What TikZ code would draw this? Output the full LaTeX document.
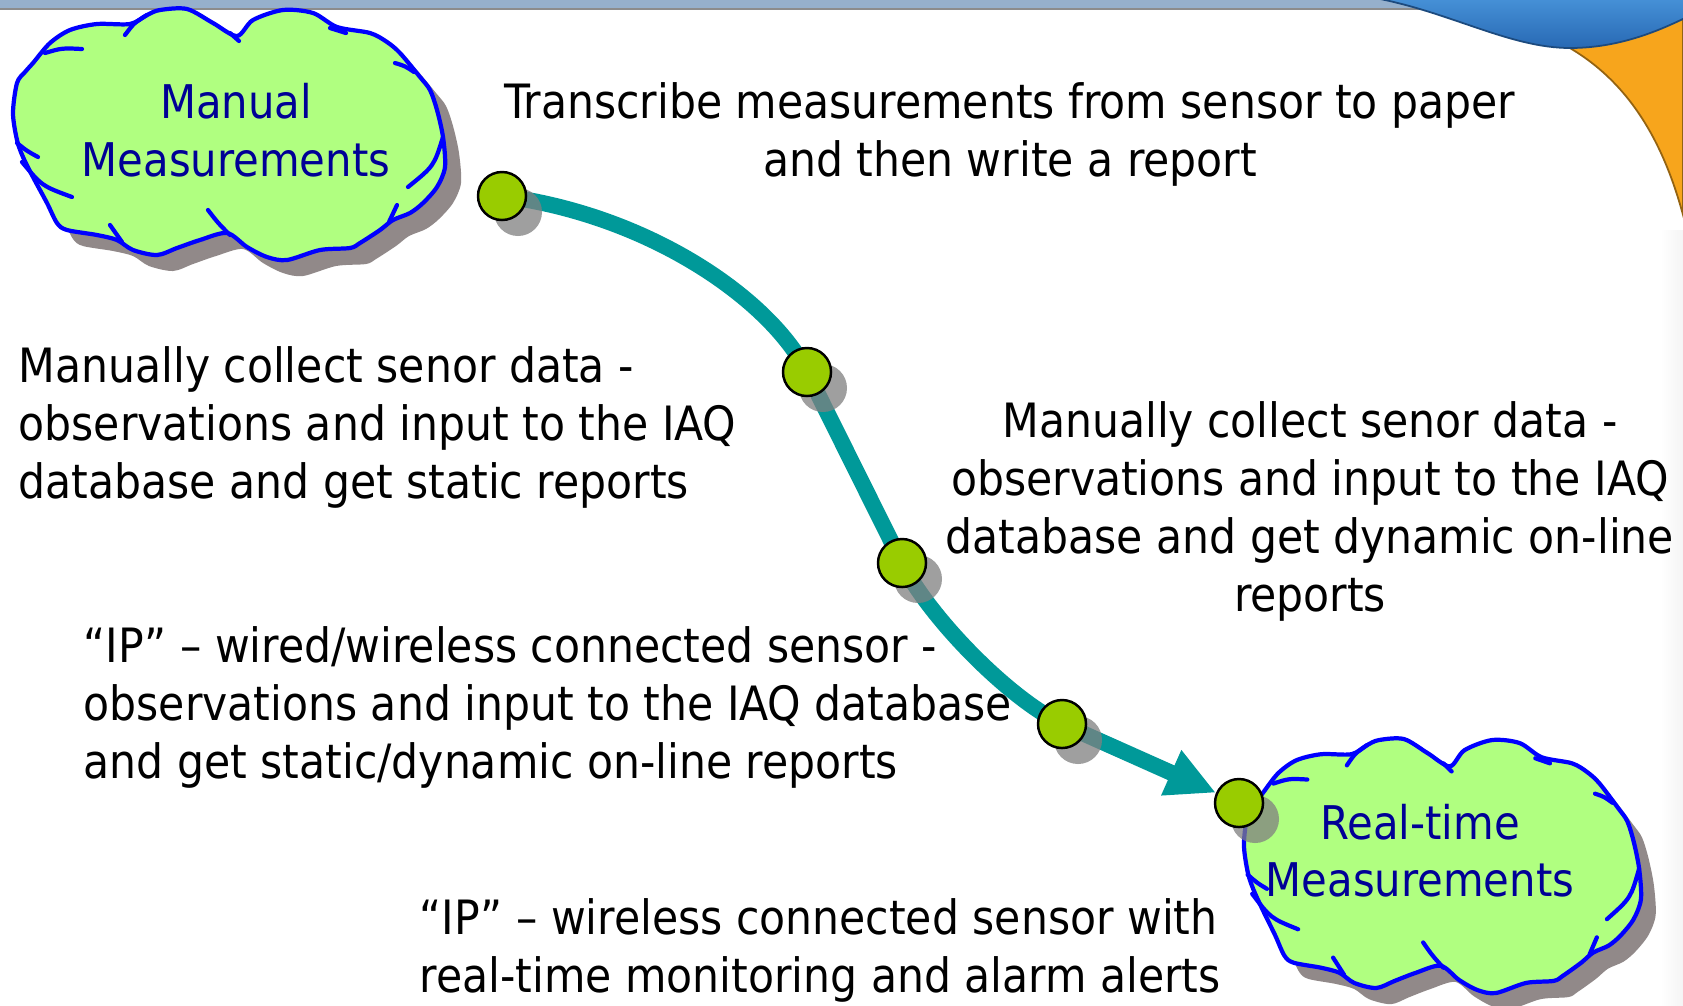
\documentclass[tikz,border=0pt]{standalone}
\usepackage{fontspec}
\setmainfont{DejaVu Sans Condensed}
\usepackage{tikz}
\usetikzlibrary{arrows.meta,backgrounds}

\definecolor{cloudfill}{RGB}{176,255,128}
\definecolor{cloudline}{RGB}{0,0,255}
\definecolor{cloudshade}{RGB}{145,137,137}
\definecolor{cloudtext}{RGB}{0,0,150}
\definecolor{flowteal}{RGB}{0,153,153}
\definecolor{dotgreen}{RGB}{153,204,0}
\definecolor{barblue}{RGB}{150,176,204}
\definecolor{captop}{RGB}{70,145,215}
\definecolor{capbottom}{RGB}{40,105,180}
\definecolor{caporange}{RGB}{247,165,28}

\newcommand\cloudrim{plot[smooth cycle,tension=0.5] coordinates {
  (1,105) (5,75) (13,64) (21,55) (38,35) (58,22) (85,16) (118,16) (135,7)
  (148,2) (175,1) (201,15) (225,28) (241,12) (271,2) (301,5) (325,19)
  (358,25) (375,34) (388,45) (408,69) (418,82) (425,102) (431,129)
  (433,159) (425,179) (411,195) (398,205) (381,212) (368,222) (348,235)
  (338,240) (308,242) (275,252) (255,249) (235,239) (215,225) (188,232)
  (165,240) (145,247) (121,242) (105,232) (85,227) (55,222) (45,215)
  (35,195) (21,169) (11,149) (5,132)}}
\newcommand\cloudstrokes{
  (33,45) .. controls (50,40) .. (70,41)
  (135,7) .. controls (122,15) .. (113,27)
  (218,25) -- (227,33)
  (318,20) -- (334,25)
  (383,55) .. controls (393,58) .. (402,64)
  (431,129) .. controls (422,158) .. (396,179)
  (377,214) -- (385,197)
  (196,202) .. controls (206,215) .. (218,227)
  (98,217) .. controls (104,226) .. (110,234)
  (10,154) .. controls (30,178) .. (60,189)
  (5,135) .. controls (15,143) .. (26,149)}

\begin{document}
\begin{tikzpicture}[x=0.01cm,y=-0.01cm,
    txt/.style={inner sep=0pt,font=\fontsize{13.45pt}{16.5pt}\selectfont},
    cloudlabel/.style={txt,text=cloudtext,align=center,anchor=north,
      font=\fontsize{13.2pt}{16.3pt}\selectfont},
    dot/.style={circle,draw=black,line width=0.7pt,fill=dotgreen,
      minimum size=0.48cm,inner sep=0pt},
    dotshade/.style={fill=black!50,opacity=0.75},
    flow/.style={draw=flowteal,line width=0.16cm,
      -{Triangle[length=0.49cm,width=0.46cm]}},
    pics/cloud/.style={code={
      \fill[cloudshade,shift={(16,16)}] \cloudrim;
      \filldraw[fill=cloudfill,draw=cloudline,line width=1.2pt] \cloudrim;
      \draw[cloudline,line width=1.2pt,line cap=round] \cloudstrokes;
    }}]
    \useasboundingbox (0,0) rectangle (1683,1005);

    \pic at (12,8) {cloud};
    \pic[xscale=0.919,yscale=1.012] at (1243,738) {cloud};
    \node[cloudlabel] (manual) at (236,83) {Manual\\Measurements};
    \node[cloudlabel] (realtime) at (1420,803) {Real-time\\Measurements};

    \node[txt,align=center,anchor=north] (transcribe) at (1010,82)
        {Transcribe measurements from sensor to paper\\and then write a report};
    \node[txt,align=left,anchor=north west] (staticdb) at (18,346)
        {Manually collect senor data -\\observations and input to the IAQ\\database and get static reports};
    \node[txt,align=center,anchor=north] (dynamicdb) at (1310,401)
        {Manually collect senor data -\\observations and input to the IAQ\\database and get dynamic on-line\\reports};
    \node[txt,align=left,anchor=north west] (ipwired) at (83,626)
        {“IP” – wired/wireless connected sensor -\\observations and input to the IAQ database\\and get static/dynamic on-line reports};
    \node[txt,align=left,anchor=north west] (ipalarm) at (419,898)
        {“IP” – wireless connected sensor with\\real-time monitoring and alarm alerts};

    \foreach \n/\px/\py in {
        d1/502/196,
        d2/807/372,
        d3/902/563,
        d4/1062/724,
        d5/1239/803
        }
        {
            \fill[dotshade] (\px+16,\py+16) circle[radius=24];
            \node[dot] (\n) at (\px,\py) {};
        }

    \begin{scope}[on background layer]
        \fill[white] (0,0) rectangle (1683,1005);
        \fill[barblue] (0,0) rectangle (1683,9);
        \draw[black!45,line width=0.6pt] (0,9) -- (1683,9);
        \shade[left color=white,right color=black!4] (1660,230) rectangle (1683,1005);
        \filldraw[fill=caporange,draw=caporange!60!black,line width=0.5pt]
            (1555,40) -- (1683,0) -- (1683,215)
            .. controls (1660,130) and (1620,72) .. (1555,40) -- cycle;
        \shade[top color=captop,bottom color=capbottom,draw=capbottom!70!black,line width=0.5pt]
            (1375,-2) .. controls (1450,12) and (1510,48) .. (1570,48)
            .. controls (1620,48) and (1660,30) .. (1685,18) -- (1685,-2) -- cycle;
        \draw[flow] (d1.center) .. controls (650,215) and (771,300) .. (d2.center)
            -- (d3.center) .. controls (929,617) and (1008,698) .. (d4.center) -- (d5);
    \end{scope}
\end{tikzpicture}
\end{document}
